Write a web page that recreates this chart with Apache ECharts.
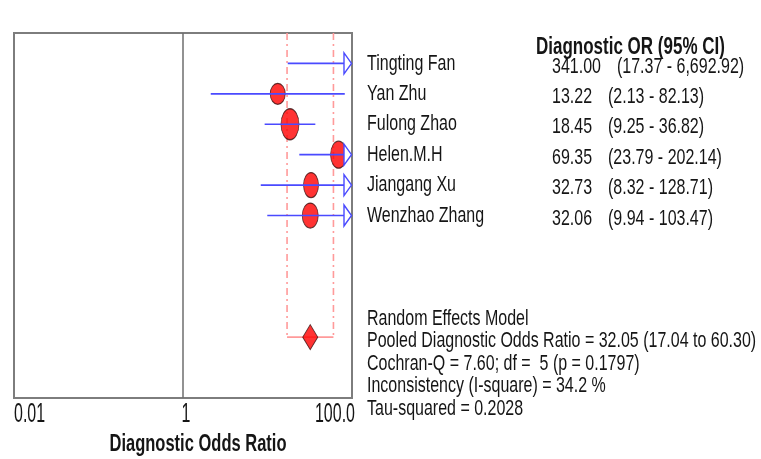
<!DOCTYPE html>
<html>
<head>
<meta charset="utf-8">
<script src="https://cdn.jsdelivr.net/npm/echarts@6/dist/echarts.min.js"></script>
<style>
html,body{margin:0;padding:0;background:#fff;}
#chart{width:761px;height:459px;}
</style>
</head>
<body>
<div id="chart"></div>
<script>
// ---------------- data ----------------
const studies = ['Tingting Fan', 'Yan Zhu', 'Fulong Zhao', 'Helen.M.H', 'Jiangang Xu', 'Wenzhao Zhang'];
const orValues = [341.00, 13.22, 18.45, 69.35, 32.73, 32.06];
const ciLower = [17.37, 2.13, 9.25, 23.79, 8.32, 9.94];
const ciUpper = [6692.92, 82.13, 36.82, 202.14, 128.71, 103.47];
const orLabels = ['341.00', '13.22', '18.45', '69.35', '32.73', '32.06'];
const ciLabels = ['(17.37 - 6,692.92)', '(2.13 - 82.13)', '(9.25 - 36.82)', '(23.79 - 202.14)', '(8.32 - 128.71)', '(9.94 - 103.47)'];
const pooledOR = [32.05];
const pooledLower = [17.04];
const pooledUpper = [60.30];
const pooledRow = 9;
const tickValues = [0.01, 1, 100];
const tickLabels = ['0.01', '1', '100.0'];
const headerText = 'Diagnostic OR (95% CI)';
const axisTitle = 'Diagnostic Odds Ratio';
const statsLines = [
  'Random Effects Model',
  'Pooled Diagnostic Odds Ratio = 32.05 (17.04 to 60.30)',
  'Cochran-Q = 7.60; df =  5 (p = 0.1797)',
  'Inconsistency (I-square) = 34.2 %',
  'Tau-squared = 0.2028'
];

// ---------------- styles ----------------
const markerSizes = [[14, 20], [15, 21], [18, 31], [16, 27], [15, 25], [16, 25]];
const BLUE = '#4a4aff';
const PINK = '#ff9a9a';
const FONT = '"Liberation Sans", Arial, sans-serif';
const TXT = '#151515';
const SY = 1.4;
const X_MIN = 0.01, X_MAX = 100;

const chart = echarts.init(document.getElementById('chart'), null, { renderer: 'canvas' });

const ciData = studies.map((s, i) => [i, ciLower[i], ciUpper[i]]);
const pointData = studies.map((s, i) => ({ value: [orValues[i], i], symbolSize: markerSizes[i] }));

chart.setOption({
  animation: false,
  backgroundColor: '#fff',
  grid: { left: 14, right: 409, top: 33, bottom: 61, show: true, borderColor: '#7d7d7d', borderWidth: 2, backgroundColor: 'transparent' },
  xAxis: {
    type: 'log', logBase: 10, min: X_MIN, max: X_MAX,
    axisLine: { show: false }, axisTick: { show: false }, axisLabel: { show: false }, splitLine: { show: false }
  },
  yAxis: {
    type: 'value', min: -1, max: 11, inverse: true,
    axisLine: { show: false }, axisTick: { show: false }, axisLabel: { show: false }, splitLine: { show: false }
  },
  series: [
    {
      // pooled CI bracket (dash-dot)
      type: 'custom',
      z: 1,
      silent: true,
      encode: { x: [0, 1], y: 2 },
      data: [[pooledLower[0], pooledUpper[0], pooledRow]],
      renderItem: function (params, api) {
        const lo = api.coord([api.value(0), api.value(2)]);
        const hi = api.coord([api.value(1), api.value(2)]);
        const top = api.coord([api.value(0), -1])[1];
        const dash = [7, 4, 2, 4];
        return {
          type: 'group',
          children: [
            { type: 'line', shape: { x1: lo[0], y1: top, x2: lo[0], y2: lo[1] }, style: { stroke: PINK, lineWidth: 1.6, lineDash: dash } },
            { type: 'line', shape: { x1: hi[0], y1: top, x2: hi[0], y2: hi[1] }, style: { stroke: PINK, lineWidth: 1.6, lineDash: dash } },
            { type: 'line', shape: { x1: lo[0], y1: lo[1], x2: hi[0], y2: hi[1] }, style: { stroke: PINK, lineWidth: 1.8 } }
          ]
        };
      }
    },
    {
      type: 'scatter',
      z: 2,
      silent: true,
      symbol: 'circle',
      clip: true,
      itemStyle: { color: '#ff0000', borderColor: '#3a1010', borderWidth: 1 },
      data: pointData,
      markLine: {
        silent: true, symbol: 'none', label: { show: false },
        lineStyle: { color: '#6e6e6e', width: 1.5, type: 'solid' },
        data: [{ xAxis: 1 }]
      }
    },
    {
      type: 'scatter',
      z: 2,
      silent: true,
      symbol: 'diamond',
      symbolSize: [15, 25],
      itemStyle: { color: '#ff0000', borderColor: '#3a1010', borderWidth: 1 },
      data: [[pooledOR[0], pooledRow]]
    },
    {
      // study CI lines with arrows when truncated
      type: 'custom',
      z: 3,
      silent: true,
      encode: { x: [1, 2], y: 0 },
      data: ciData,
      renderItem: function (params, api) {
        const row = api.value(0), lo = api.value(1), hi = api.value(2);
        const clipped = hi > X_MAX;
        const p1 = api.coord([Math.max(lo, X_MIN), row]);
        const p2 = api.coord([clipped ? X_MAX : hi, row]);
        const aw = 8, ah = 10.5;
        const children = [
          { type: 'line', shape: { x1: p1[0], y1: p1[1], x2: clipped ? p2[0] - aw : p2[0], y2: p2[1] }, style: { stroke: BLUE, lineWidth: 1.6 } }
        ];
        if (clipped) {
          children.push({
            type: 'polygon',
            shape: { points: [[p2[0] - aw, p2[1] - ah], [p2[0] - 0.5, p2[1]], [p2[0] - aw, p2[1] + ah]] },
            style: { fill: '#ffffff', stroke: BLUE, lineWidth: 1.4 }
          });
        }
        return { type: 'group', children: children };
      }
    }
  ]
});

// --------------- text (placed through the chart's scales) ---------------
const mctx = document.createElement('canvas').getContext('2d');
function tw(text, font) { mctx.font = font; return mctx.measureText(text).width; }
function rowY(r) { return chart.convertToPixel({ yAxisIndex: 0 }, r); }
function xPx(v) { return chart.convertToPixel({ xAxisIndex: 0 }, v); }

function txt(text, x, y, opts) {
  opts = opts || {};
  const font = (opts.bold ? 'bold ' : '') + (opts.size || 16) + 'px ' + FONT;
  return {
    type: 'text', x: x, y: y, scaleY: opts.sy || SY, scaleX: opts.sx || 1, silent: true,
    style: {
      text: text, font: font, fill: TXT,
      textAlign: opts.align || 'left', align: opts.align || 'left',
      textVerticalAlign: 'middle', verticalAlign: 'middle'
    }
  };
}

const g = [];
const regFont = '16px ' + FONT;
g.push(txt(headerText, 536, 47, { bold: true, size: 17 }));
studies.forEach((s, i) => {
  const y = rowY(i);
  g.push(txt(s, 367, y));
  const vy = y + 3;
  g.push(txt(orLabels[i], 552, vy));
  g.push(txt(ciLabels[i], 552 + tw(orLabels[i], regFont) + 16, vy));
});
statsLines.forEach((s, i) => {
  g.push(txt(s, 367, 318.5 + i * 22.6));
});
const tickAlign = ['left', 'center', 'right'];
const tickShift = [0, 3, 3];
tickValues.forEach((v, i) => {
  g.push(txt(tickLabels[i], xPx(v) + tickShift[i], 415, { align: tickAlign[i], sy: 1.7 }));
});
g.push(txt(axisTitle, 198, 445, { bold: true, size: 16.5 }));
// centered axis title
g[g.length - 1].style.textAlign = 'center';
g[g.length - 1].style.align = 'center';

chart.setOption({ graphic: { elements: g } });
</script>
</body>
</html>
